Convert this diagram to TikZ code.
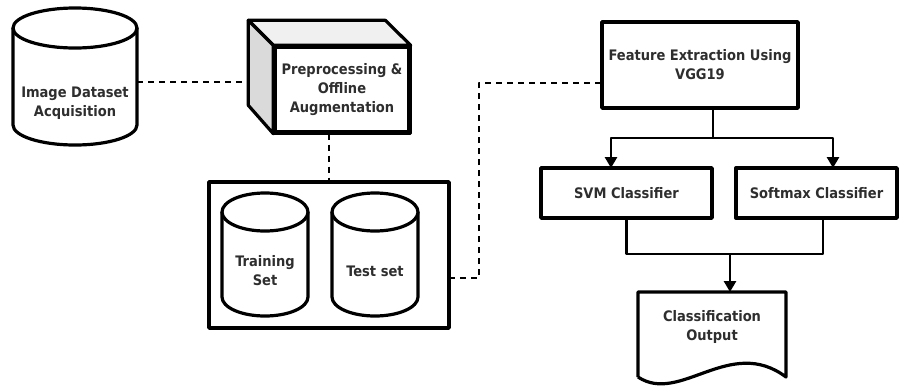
\documentclass[tikz,border=0pt]{standalone}
\usepackage{fontspec}
\setmainfont{DejaVu Sans Condensed}
\usetikzlibrary{arrows.meta,calc}
\definecolor{txt}{HTML}{2E2E2E}
\definecolor{topgrey}{HTML}{F0F0F0}
\definecolor{sidegrey}{HTML}{DADADA}
\begin{document}
\begin{tikzpicture}[x=1pt,y=-1pt,line join=round,
  box/.style={draw, line width=3.4pt, fill=white, inner sep=0pt},
  body/.style={inner sep=0pt, outer sep=0pt},
  edge/.style={line width=3.2pt},
  lbl/.style={font=\fontsize{14.5}{19}\selectfont\bfseries, text=txt, align=center},
  dashlink/.style={line width=2.8pt, dash pattern=on 6pt off 5pt},
  link/.style={line width=2.8pt},
  arr/.style={link, -{Triangle[width=12pt,length=11pt]}},
]
\useasboundingbox (0,0) rectangle (900,389);

% image acquisition store
\node[body, minimum width=124pt, minimum height=97pt] (acq) at (75,76.5) {};
\draw[edge, fill=white] (acq.north west) -- (acq.south west)
  arc[start angle=180, end angle=360, x radius=62pt, y radius=20pt]
  -- (acq.north east);
\draw[edge, fill=white] (acq.north) ellipse [x radius=62pt, y radius=20pt];
\node[lbl] (acqtext) at (75,103) {Image Dataset\\Acquisition};

% preprocessing block drawn as a cube
\node[box, minimum width=134pt, minimum height=85pt] (prep) at (342,89.5) {};
\draw[edge, fill=topgrey] (prep.north west) -- ++(-25,-25) -- ++(137,0) -- (prep.north east) -- cycle;
\draw[edge, fill=sidegrey] (prep.north west) -- ++(-25,-25) -- ++(0,85) -- (prep.south west) -- cycle;
\draw[line width=3.4pt] (prep.north west) rectangle (prep.south east);
\node[lbl] (preptext) at (prep.center) {Preprocessing \&\\Offline\\Augmentation};

% split container with the two data stores
\node[box, minimum width=240pt, minimum height=146pt] (split) at (329,255) {};
\foreach \n/\cx in {train/265, test/375}{
  \node[body, minimum width=86pt, minimum height=85pt] (\n) at (\cx,254.5) {};
  \draw[edge, fill=white] (\n.north west) -- (\n.south west)
    arc[start angle=180, end angle=360, x radius=43pt, y radius=19pt]
    -- (\n.north east);
  \draw[edge, fill=white] (\n.north) ellipse [x radius=43pt, y radius=19pt];
}
\node[lbl] (traintext) at (265,271) {Training\\Set};
\node[lbl] (testtext) at (375,271) {Test set};

% feature extractor and classifiers
\node[box, minimum width=196pt, minimum height=86pt] (feat) at (700,65) {};
\node[lbl] (feattext) at (feat.center) {Feature Extraction Using\\VGG19};
\node[box, minimum width=171pt, minimum height=50pt] (svm) at (626.5,193) {};
\node[lbl] (svmtext) at (svm.center) {SVM Classifier};
\node[box, minimum width=161pt, minimum height=50pt] (soft) at (816.5,193) {};
\node[lbl] (softtext) at (soft.center) {Softmax Classifier};

% output document
\node[body, minimum width=148pt, minimum height=85pt] (out) at (712,334.5) {};
\draw[edge, fill=white] (out.south west) -- (out.north west) -- (out.north east) -- (out.south east)
  .. controls (730,335) and (680,405) .. (out.south west);
\node[lbl] (outtext) at (712,326.5) {Classification\\Output};

% dashed data-flow links
\coordinate (prepin) at (250,82);
\draw[dashlink] (acq.east |- prepin) -- (prepin);
\draw[dashlink] (prep.south -| split.north) -- (split.north);
\coordinate (splitout) at (449,278);
\coordinate (bend) at (479,83);
\draw[dashlink] (splitout) -| (bend) -- (feat.west |- bend);

% classifier fork
\coordinate (fork) at (713,138);
\coordinate (svmin) at (611,168);
\coordinate (softin) at (833,168);
\draw[link] (feat.south -| fork) -- (fork);
\draw[arr] (fork) -| (svmin);
\draw[arr] (fork) -| (softin);

% merge into output
\coordinate (merge) at (730,254);
\coordinate (softout) at (823,218);
\draw[link] (svm.south) |- (merge);
\draw[link] (softout) |- (merge);
\draw[arr] (merge) -- (merge |- out.north);
\end{tikzpicture}
\end{document}
